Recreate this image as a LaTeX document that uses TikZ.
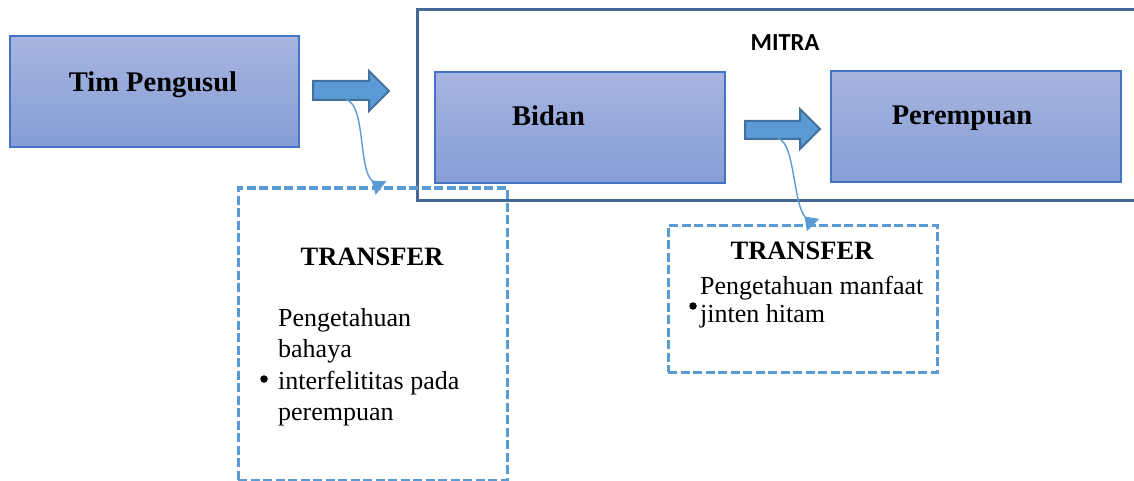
\documentclass[tikz,border=0pt]{standalone}
\usepackage{fontspec}
\setmainfont{Liberation Serif}
\newfontfamily\carl{Carlito}
\usetikzlibrary{arrows.meta}
\definecolor{boxtop}{RGB}{167,181,223}
\definecolor{boxbot}{RGB}{134,157,214}
\definecolor{boxline}{RGB}{68,114,196}
\definecolor{arrfill}{RGB}{91,155,213}
\definecolor{arrline}{RGB}{65,113,156}
\definecolor{mitraline}{RGB}{68,103,150}
\definecolor{dashc}{RGB}{91,155,213}
\begin{document}
\begin{tikzpicture}[x=1pt,y=-1pt,
  pbox/.style={draw=boxline, line width=2pt, top color=boxtop, bottom color=boxbot, inner sep=0pt, minimum width=290pt, minimum height=111pt},
  btitle/.style={font=\fontsize{28.5}{34}\selectfont\bfseries, inner sep=0pt, anchor=base},
  blockarrow/.style={draw=arrline, fill=arrfill, line width=2pt, line join=miter},
  dashbox/.style={draw=dashc, line width=3pt, dash pattern=on 9pt off 3.5pt, inner sep=0pt},
  ttitle/.style={font=\fontsize{26.5}{32}\selectfont\bfseries, inner sep=0pt, anchor=base},
  body/.style={font=\fontsize{26}{31.5}\selectfont, inner sep=0pt, align=left, anchor=base west},
  conn/.style={draw=dashc, line width=1.4pt, -{Triangle[reversed, width=17pt, length=12pt]}},
  bul/.style={circle, fill=black, inner sep=0pt, minimum size=7.5pt}
]
\useasboundingbox (0,0) rectangle (1134,481);
\clip (0,0) rectangle (1134,481);

% MITRA frame
\node[draw=mitraline, line width=3pt, inner sep=0pt, minimum width=733pt, minimum height=190pt] (mitra) at (783.5,105) {};
\node[font=\carl\fontsize{24.5}{30}\selectfont\bfseries, inner sep=0pt, anchor=base] (mitratxt) at (785,51) {MITRA};

% boxes
\node[pbox, minimum width=289pt] (tim) at (154,92) {};
\node[btitle] (timtxt) at (153,92) {Tim Pengusul};
\node[pbox] (bidan) at (580,127.5) {};
\node[btitle] (bidantxt) at (548.5,126) {Bidan};
\node[pbox, minimum width=289.5pt] (perem) at (976.2,126.5) {};
\node[btitle] (peremtxt) at (962,125) {Perempuan};

% block arrows
\draw[blockarrow] (313,81) -- (369,81) -- (369,71) -- (389,91) -- (369,111) -- (369,100) -- (313,100) -- cycle;
\coordinate (a1) at (346,99.5);
\draw[blockarrow] (745,121) -- (800,121) -- (800,109) -- (820,129) -- (800,149) -- (800,139) -- (745,139) -- cycle;
\coordinate (a2) at (778,138.5);

% transfer boxes
\node[dashbox, minimum width=269pt, minimum height=292pt] (t1) at (372.5,334) {};
\node[ttitle] (t1title) at (372,265) {TRANSFER};
\node[body] (t1body) at (278,420.5) {Pengetahuan\\bahaya\\interfelititas pada\\perempuan};
\node[bul] (b1) at (264,379) {};

\node[dashbox, minimum width=269pt, minimum height=147pt] (t2) at (802.5,298.5) {};
\node[ttitle] (t2title) at (802,259) {TRANSFER};
\node[body, font=\fontsize{26}{28}\selectfont] (t2body) at (700,322) {Pengetahuan manfaat\\jinten hitam};
\node[bul] (b2) at (693,306) {};

% connectors
\coordinate (e1) at (381,188);
\coordinate (e2) at (813,225);
\draw[conn] (a1) .. controls (366,105) and (358,170) .. (e1);
\draw[conn] (a2) .. controls (795,142) and (793,205) .. (e2);
\end{tikzpicture}
\end{document}
